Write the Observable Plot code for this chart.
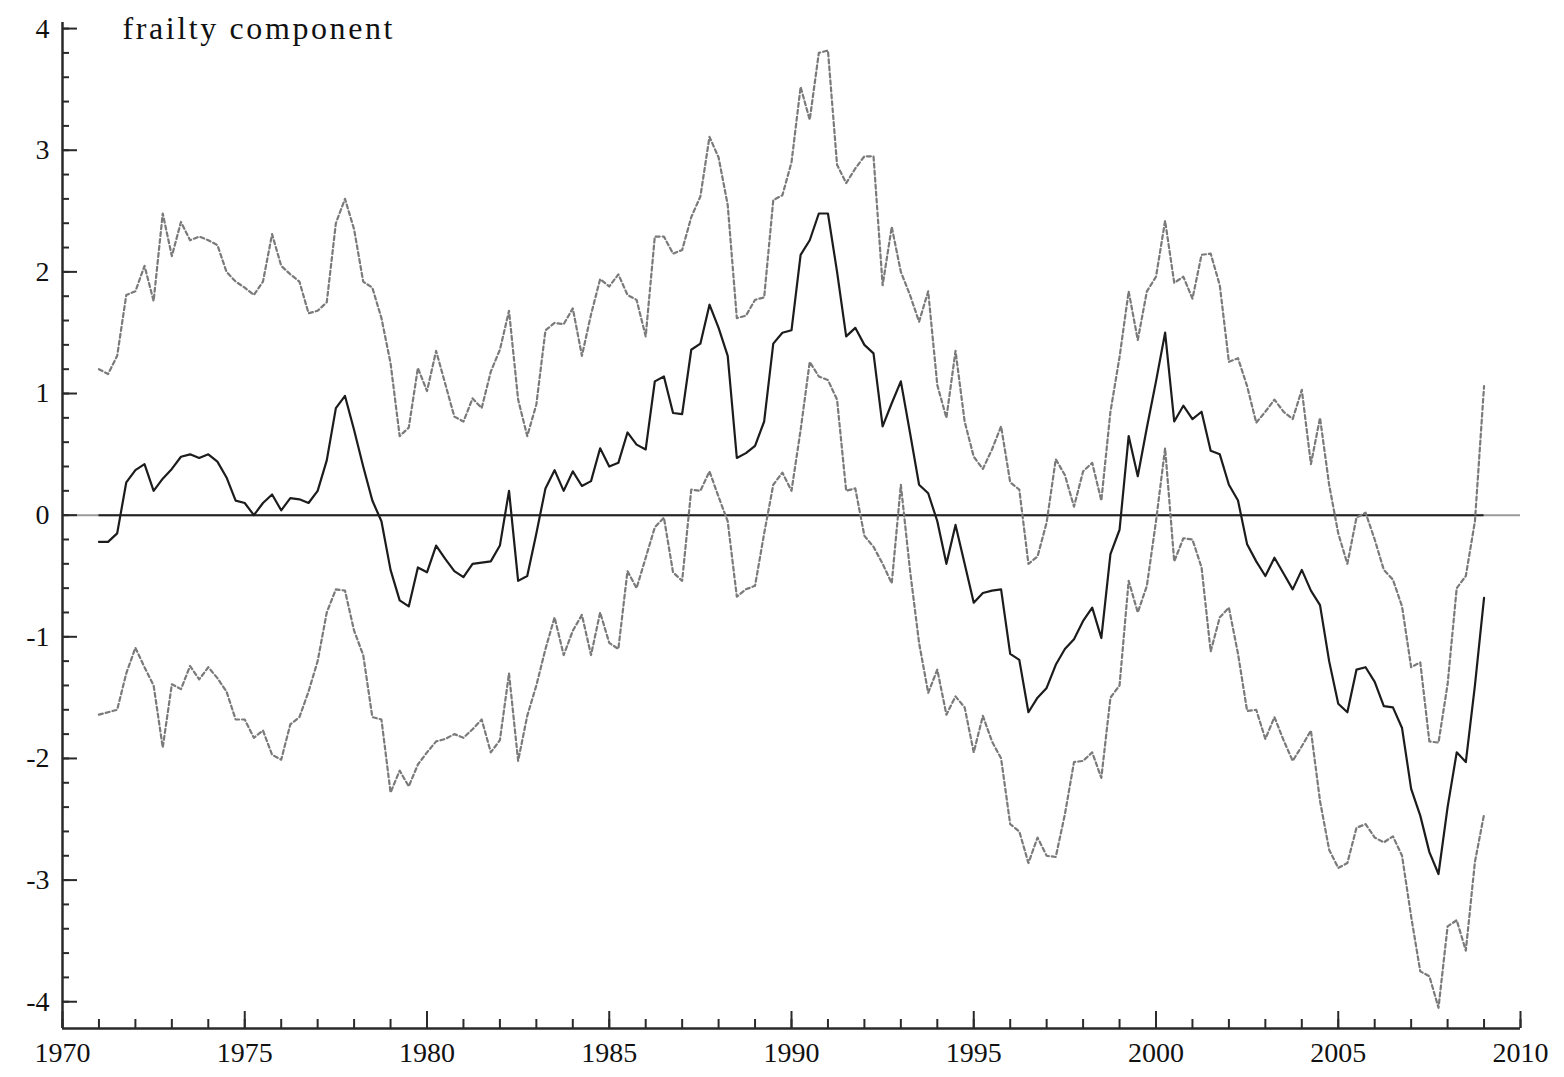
<!DOCTYPE html>
<html>
<head>
<meta charset="utf-8">
<script src="https://cdn.jsdelivr.net/npm/d3@7"></script>
<script src="https://cdn.jsdelivr.net/npm/@observablehq/plot@0.6"></script>
<style>
  body { margin: 0; background: #fff; }
  #chart svg { display: block; }
</style>
</head>
<body>
<div id="chart"></div>
<script>
// Quarterly estimates, 1971Q1 to 2009Q1
const firstYear = 1971;
const quartersPerYear = 4;

// posterior mean of the frailty component
const frailtyMean = [
  -0.22, -0.22, -0.15, 0.27, 0.37, 0.42, 0.20, 0.30, 0.38, 0.48, 0.50, 0.47,
  0.50, 0.44, 0.31, 0.12, 0.10, 0.00, 0.10, 0.17, 0.04, 0.14, 0.13, 0.10,
  0.20, 0.45, 0.88, 0.98, 0.70, 0.40, 0.12, -0.05, -0.45, -0.70, -0.75, -0.43,
  -0.47, -0.25, -0.36, -0.46, -0.51, -0.40, -0.39, -0.38, -0.25, 0.20, -0.54, -0.50,
  -0.15, 0.22, 0.37, 0.20, 0.36, 0.24, 0.28, 0.55, 0.40, 0.43, 0.68, 0.58,
  0.54, 1.10, 1.14, 0.84, 0.83, 1.36, 1.41, 1.73, 1.54, 1.31, 0.47, 0.51,
  0.57, 0.77, 1.41, 1.50, 1.52, 2.14, 2.26, 2.48, 2.48, 2.00, 1.47, 1.54,
  1.40, 1.33, 0.73, 0.92, 1.10, 0.68, 0.25, 0.18, -0.05, -0.40, -0.08, -0.40,
  -0.72, -0.64, -0.62, -0.61, -1.14, -1.19, -1.62, -1.50, -1.42, -1.23, -1.10, -1.02,
  -0.87, -0.76, -1.01, -0.32, -0.12, 0.65, 0.32, 0.72, 1.10, 1.50, 0.77, 0.90,
  0.79, 0.85, 0.53, 0.50, 0.25, 0.12, -0.24, -0.38, -0.50, -0.35, -0.48, -0.61,
  -0.45, -0.62, -0.74, -1.20, -1.55, -1.62, -1.27, -1.25, -1.37, -1.57, -1.58, -1.75,
  -2.25, -2.47, -2.77, -2.95, -2.40, -1.95, -2.03, -1.40, -0.68
];

// upper band
const frailtyUpper = [
  1.20, 1.16, 1.31, 1.81, 1.84, 2.05, 1.76, 2.48, 2.13, 2.41, 2.26, 2.29,
  2.26, 2.22, 2.00, 1.92, 1.87, 1.81, 1.92, 2.31, 2.05, 1.98, 1.92, 1.66,
  1.68, 1.75, 2.40, 2.60, 2.35, 1.92, 1.87, 1.62, 1.25, 0.65, 0.72, 1.21,
  1.02, 1.35, 1.08, 0.81, 0.77, 0.96, 0.88, 1.18, 1.36, 1.68, 0.95, 0.65,
  0.91, 1.52, 1.58, 1.57, 1.70, 1.31, 1.65, 1.94, 1.88, 1.98, 1.81, 1.77,
  1.47, 2.29, 2.29, 2.15, 2.18, 2.45, 2.62, 3.11, 2.94, 2.55, 1.62, 1.64,
  1.77, 1.79, 2.59, 2.63, 2.90, 3.52, 3.25, 3.80, 3.82, 2.88, 2.73, 2.85,
  2.95, 2.95, 1.89, 2.37, 2.00, 1.81, 1.59, 1.84, 1.07, 0.80, 1.35, 0.77,
  0.48, 0.38, 0.54, 0.73, 0.27, 0.21, -0.40, -0.34, -0.06, 0.46, 0.33, 0.07,
  0.36, 0.43, 0.12, 0.85, 1.30, 1.84, 1.44, 1.84, 1.96, 2.42, 1.91, 1.96,
  1.78, 2.14, 2.15, 1.89, 1.26, 1.29, 1.06, 0.76, 0.85, 0.95, 0.85, 0.79,
  1.03, 0.42, 0.80, 0.25, -0.15, -0.40, -0.02, 0.02, -0.20, -0.45, -0.53, -0.75,
  -1.25, -1.21, -1.86, -1.87, -1.39, -0.60, -0.50, -0.05, 1.06
];

// lower band
const frailtyLower = [
  -1.64, -1.62, -1.60, -1.30, -1.09, -1.25, -1.40, -1.91, -1.39, -1.43, -1.24, -1.35,
  -1.25, -1.34, -1.45, -1.68, -1.68, -1.83, -1.77, -1.97, -2.01, -1.72, -1.66, -1.45,
  -1.20, -0.80, -0.61, -0.62, -0.95, -1.15, -1.66, -1.68, -2.28, -2.10, -2.23, -2.05,
  -1.95, -1.86, -1.84, -1.80, -1.83, -1.76, -1.68, -1.95, -1.85, -1.30, -2.02, -1.65,
  -1.40, -1.10, -0.84, -1.15, -0.95, -0.82, -1.15, -0.80, -1.05, -1.10, -0.46, -0.60,
  -0.35, -0.10, -0.02, -0.47, -0.54, 0.21, 0.20, 0.36, 0.15, -0.05, -0.67, -0.61,
  -0.58, -0.15, 0.25, 0.35, 0.20, 0.70, 1.26, 1.14, 1.11, 0.95, 0.20, 0.22,
  -0.17, -0.26, -0.40, -0.56, 0.25, -0.45, -1.05, -1.46, -1.27, -1.64, -1.49, -1.58,
  -1.95, -1.65, -1.86, -2.00, -2.54, -2.60, -2.86, -2.65, -2.80, -2.81, -2.46, -2.03,
  -2.02, -1.95, -2.16, -1.50, -1.40, -0.54, -0.80, -0.58, -0.05, 0.55, -0.38, -0.19,
  -0.20, -0.43, -1.12, -0.84, -0.76, -1.14, -1.61, -1.60, -1.84, -1.66, -1.85, -2.02,
  -1.90, -1.77, -2.35, -2.75, -2.90, -2.86, -2.57, -2.54, -2.65, -2.69, -2.64, -2.80,
  -3.30, -3.75, -3.79, -4.05, -3.38, -3.33, -3.58, -2.85, -2.46
];

// axis ticks
const xMajorTicks = [1970, 1975, 1980, 1985, 1990, 1995, 2000, 2005, 2010];
const xMinorTicks = d3.range(1970, 2011, 1);
const yMajorTicks = [-4, -3, -2, -1, 0, 1, 2, 3, 4];
const yMinorTicks = d3.range(-40, 41, 2).map(d => d / 10);
const xDomain = [1970, 2010];
const yDomain = [-4.22, 4.05];
const panelTitle = "frailty component";

const W = 1564, H = 1077;
const margin = {top: 22, right: 44, bottom: 49, left: 62};
const innerW = W - margin.left - margin.right;
const innerH = H - margin.top - margin.bottom;

const toRows = values => values.map((v, i) => ({date: firstYear + i / quartersPerYear, value: v}));
const meanRows = toRows(frailtyMean);
const upperRows = toRows(frailtyUpper);
const lowerRows = toRows(frailtyLower);
const dataSpan = [meanRows[0].date, meanRows[meanRows.length - 1].date];

const serif = "'Liberation Serif', 'DejaVu Serif', serif";
const axisColor = "#2a2a2a";
const bandStyle = {stroke: "#7a7a7a", strokeWidth: 2.2, strokeDasharray: "4,3", curve: "linear"};

const chart = Plot.plot({
  width: W,
  height: H,
  marginTop: margin.top,
  marginRight: margin.right,
  marginBottom: margin.bottom,
  marginLeft: margin.left,
  style: {background: "#fff", fontFamily: serif},
  x: {domain: xDomain},
  y: {domain: yDomain},
  marks: [
    // zero reference line
    Plot.ruleY([0], {stroke: "#9a9a9a", strokeWidth: 2}),
    Plot.ruleY([0], {x1: dataSpan[0], x2: dataSpan[1], stroke: "#222", strokeWidth: 2}),
    // bands
    Plot.line(upperRows, {x: "date", y: "value", ...bandStyle}),
    Plot.line(lowerRows, {x: "date", y: "value", ...bandStyle}),
    // mean
    Plot.line(meanRows, {x: "date", y: "value", stroke: "#1c1c1c", strokeWidth: 2.2, curve: "linear"}),
    // inward ticks
    Plot.tickY(yMinorTicks, {y: d => d, insetRight: innerW - 7, stroke: axisColor, strokeWidth: 2}),
    Plot.tickY(yMajorTicks, {y: d => d, insetRight: innerW - 15, stroke: axisColor, strokeWidth: 2}),
    Plot.tickX(xMinorTicks, {x: d => d, insetTop: innerH - 9, stroke: axisColor, strokeWidth: 2}),
    Plot.tickX(xMajorTicks, {x: d => d, insetTop: innerH - 17, stroke: axisColor, strokeWidth: 2}),
    // axis lines
    Plot.ruleX([xDomain[0]], {stroke: axisColor, strokeWidth: 2.5}),
    Plot.ruleY([yDomain[0]], {stroke: axisColor, strokeWidth: 2.5}),
    // labels
    Plot.axisY(yMajorTicks, {tickSize: 0, tickPadding: 13, fontSize: 28, fontFamily: serif, fill: "#111", label: null, tickFormat: d => String(d)}),
    Plot.axisX(xMajorTicks, {tickSize: 0, tickPadding: 14, fontSize: 28, fontFamily: serif, fill: "#111", label: null, tickFormat: d => String(d)}),
    Plot.text([panelTitle], {frameAnchor: "top-left", dx: 60, dy: -6, fontSize: 32, fontFamily: serif, fill: "#111", textAnchor: "start", lineAnchor: "top"})
  ]
});

// the panel title is set with a little extra tracking
d3.select(chart).selectAll("g[aria-label='text'] text").attr("letter-spacing", "2.6px");

document.getElementById("chart").appendChild(chart);
</script>
</body>
</html>
